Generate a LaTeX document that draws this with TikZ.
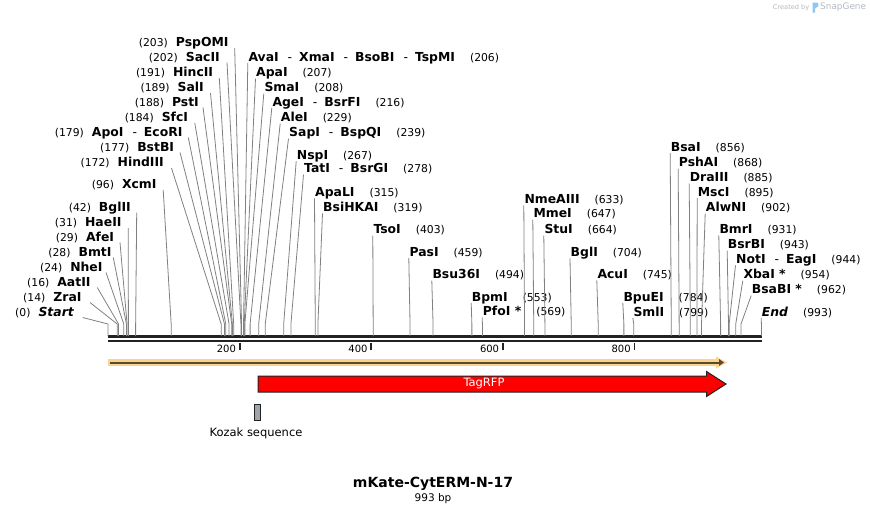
\documentclass[tikz,border=0pt]{standalone}
\usepackage{fontspec}
\setmainfont{DejaVu Sans}
\usepackage{tikz}
\usetikzlibrary{arrows.meta}

\definecolor{leadgray}{RGB}{128,128,128}
\definecolor{bandorange}{RGB}{250,212,138}
\definecolor{banddark}{RGB}{90,74,50}
\definecolor{seqblack}{RGB}{34,34,34}
\definecolor{kozakgray}{RGB}{160,164,171}
\definecolor{brandgray}{RGB}{178,184,192}
\definecolor{brandblue}{RGB}{140,200,240}

\newcommand{\numfnt}{\fontsize{10.8}{12}\selectfont\mdseries\upshape}
\newcommand{\enzsep}{\hspace{9pt}{\mdseries-}\hspace{7pt}}

\begin{document}
\begin{tikzpicture}[x=1pt,y=-1pt,
        lft/.style={anchor=base east,inner sep=0pt,font=\fontsize{12.4}{14}\selectfont\bfseries},
        rgt/.style={anchor=base west,inner sep=0pt,font=\fontsize{12.4}{14}\selectfont\bfseries},
        leader/.style={draw=leadgray,line width=0.8pt,
            to path={-- ([yshift=12pt]\tikztotarget) -- (\tikztotarget)}},
        ticklbl/.style={anchor=east,inner sep=0pt,font=\fontsize{10}{12}\selectfont}]

        \useasboundingbox (0,0) rectangle (870,515);

        \coordinate (seqL) at (108,336.8);
        \coordinate (seqR) at (762,336.8);
        \draw[seqblack,line width=2.7pt] (seqL) -- (seqR);
        \draw[seqblack,line width=2.7pt] ([yshift=-4.3pt]seqL) -- ([yshift=-4.3pt]seqR);

        \foreach \t in {200,400,600,800} {
            \coordinate (t\t) at (108+0.658*\t,342.5);
            \draw[seqblack,line width=1.8pt] (t\t) -- ++(0,7);
            \node[ticklbl] (tl\t) at ([shift={(-3.5,6.5)}]t\t) {\t};
        }

        \foreach \nm/\nu/\x/\y/\dx in {
                PspOMI/203/228.7/42.3/6, SacII/202/220/56.7/7,
                HincII/191/213.3/72.3/6, SalI/189/204/87.3/6.5,
                PstI/188/199/101.7/4, SfcI/184/188.3/117.3/6.5,
                ApoI\enzsep EcoRI/179/182.7/131.7/5.6, BstBI/177/174.3/146.7/5.7,
                HindIII/172/164/162.3/7.5, XcmI/96/156.7/184/6.5,
                BglII/42/131/206.7/5.7, HaeII/31/121.7/222.3/6.5,
                AfeI/29/114.3/236.7/5.7, BmtI/28/111.7/251.7/1.6,
                NheI/24/102.7/266.7/3.3, AatII/16/90.7/281.7/6.6,
                ZraI/14/81.7/296.7/8.3, \itshape Start/0/74/311.7/8.7} {
            \node[lft] (e\nu) at (\x,\y+4.3) {{\numfnt(\nu)}\hspace{8pt}\nm};
            \coordinate (s\nu) at (108+0.658*\nu,336);
            \path ([shift={(\dx,1.5)}]e\nu.base east) edge[leader] (s\nu);
        }

        \foreach \nm/\nu/\x/\y in {
                AvaI\enzsep XmaI\enzsep BsoBI\enzsep TspMI/206/248.3/56.7,
                ApaI/207/256/72.3, SmaI/208/264.3/87.3,
                AgeI\enzsep BsrFI/216/272.3/101.7, AleI/229/280.7/117.3,
                SapI\enzsep BspQI/239/289/132.3, NspI/267/296.7/155,
                TatI\enzsep BsrGI/278/304/168.3, ApaLI/315/315/192,
                BsiHKAI/319/323/207, TsoI/403/373.3/229.3,
                PasI/459/409.3/251.7, Bsu36I/494/432.3/274.3,
                BpmI/553/471.7/296.7, PfoI */569/482.7/311,
                NmeAIII/633/524.3/199, MmeI/647/533.3/213.3,
                StuI/664/544.3/229.3, BglI/704/570.5/252,
                AcuI/745/597.3/274, BpuEI/784/623.3/296.7,
                SmlI/799/633.3/311.7, BsaI/856/670.7/146.7,
                PshAI/868/678.7/162.3, DraIII/885/689.7/177.3,
                MscI/895/697.7/191.7, AlwNI/902/705.7/207.3,
                BmrI/931/719.3/229, BsrBI/943/727.7/244.3,
                NotI\enzsep EagI/944/736/259, XbaI */954/743.3/274.3,
                BsaBI */962/751.7/289.3, \itshape End/993/761.7/311.7} {
            \node[rgt] (e\nu) at (\x,\y+4.3) {\nm\hspace{15pt}{\numfnt(\nu)}};
            \coordinate (s\nu) at (108+0.658*\nu,336);
            \path ([shift={(-0.5,2)}]e\nu.base west) edge[leader] (s\nu);
        }

        \coordinate (bandL) at (108,362.5);
        \coordinate (bandR) at (718,362.5);
        \draw[bandorange,line width=6.5pt] (bandL) -- (bandR);
        \fill[bandorange] (716,356.5) -- (727,362.5) -- (716,368.5) -- cycle;
        \draw[banddark,line width=2pt,-{Triangle[length=5pt,width=6.5pt]}]
            ([xshift=2pt]bandL) -- (724,362.5);

        \draw[seqblack,fill=red,line width=1pt]
            (258,376) -- (706.5,376) -- (706.5,371.5) -- (726,384)
            -- (706.5,396.5) -- (706.5,392) -- (258,392) -- cycle;
        \node[text=white,font=\fontsize{11.5}{13}\selectfont] (tagrfp) at (484,383.5) {TagRFP};

        \node[draw=seqblack,fill=kozakgray,line width=1pt,inner sep=0pt,
              minimum width=6pt,minimum height=16pt] (kozak) at (257.5,412.5) {};
        \node[font=\fontsize{11.5}{13}\selectfont] (kozaklbl) at (256,433.5) {Kozak sequence};

        \node[font=\fontsize{14}{16}\selectfont\bfseries] (title) at (433,484) {mKate-CytERM-N-17};
        \node[font=\fontsize{10.5}{12}\selectfont] (size) at (433,499) {993 bp};

        \node[anchor=east,inner sep=0pt,text=brandgray,font=\fontsize{6.6}{8}\selectfont]
            (created) at (809.5,7.5) {Created by};
        \fill[brandblue] (812.5,2.5) -- (818,2.5) -- (818.5,6) -- (815,8.5)
            -- (815,12.5) -- (812.5,12.5) -- cycle;
        \node[anchor=west,inner sep=0pt,text=brandgray,font=\fontsize{8.9}{10}\selectfont]
            (snapgene) at (820,7.5) {SnapGene};

\end{tikzpicture}
\end{document}
